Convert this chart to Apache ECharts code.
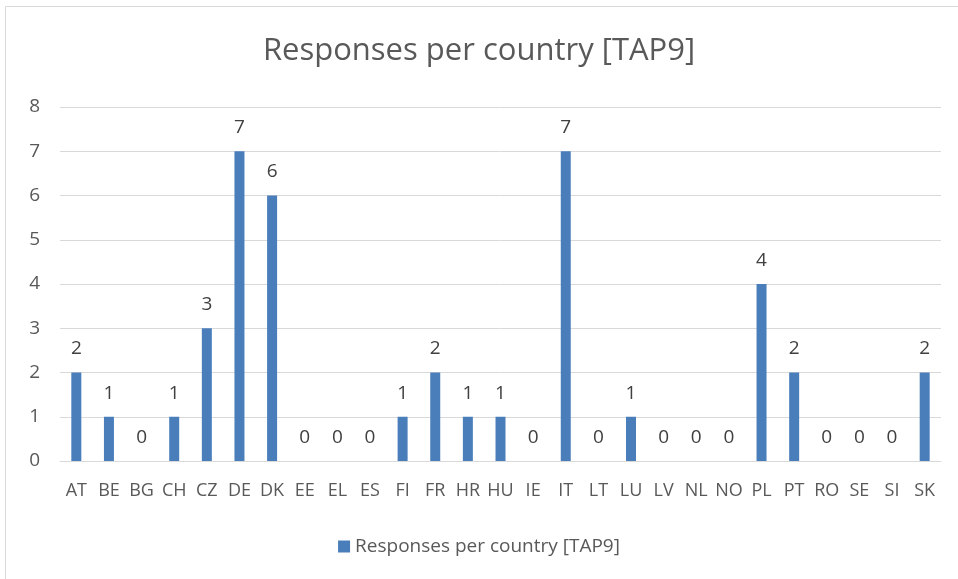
<!DOCTYPE html>
<html><head><meta charset="utf-8">
<script src="https://cdn.jsdelivr.net/npm/echarts@6/dist/echarts.min.js"></script>
<style>html,body{margin:0;padding:0;background:#fff;}#c{width:958px;height:579px;}</style>
</head><body><div id="c"></div>
<script>
const categories = ['AT','BE','BG','CH','CZ','DE','DK','EE','EL','ES','FI','FR','HR','HU','IE','IT','LT','LU','LV','NL','NO','PL','PT','RO','SE','SI','SK'];
const values = [2,1,0,1,3,7,6,0,0,0,1,2,1,1,0,7,0,1,0,0,0,4,2,0,0,0,2];
const seriesName = 'Responses per country [TAP9]';
const titleText = 'Responses per country [TAP9]';
const yTicks = {min:0, max:8, interval:1};

const chart = echarts.init(document.getElementById('c'));
const font = '"Open Sans", "Noto Sans", sans-serif';
chart.setOption({
  animation:false,
  textStyle:{fontFamily:font},
  graphic:[{type:'rect', shape:{x:5.5,y:6.5,width:960,height:580}, style:{fill:'none', stroke:'#d9d9d9', lineWidth:1}, silent:true}],
  title:{text:titleText, left:'center', top:31, textStyle:{fontFamily:font, fontSize:31, fontWeight:'normal', color:'#595959'}},
  legend:{data:[seriesName], bottom:18, left:'center', itemWidth:12, itemHeight:12, icon:'rect', itemGap:6,
    textStyle:{fontFamily:font, fontSize:19, color:'#595959'}},
  grid:{left:60, right:17, top:107, bottom:118},
  xAxis:{type:'category', data:categories,
    axisLine:{lineStyle:{color:'#d9d9d9'}}, axisTick:{show:false},
    axisLabel:{color:'#595959', fontSize:18, fontFamily:font, margin:21, interval:0}},
  yAxis:{type:'value', min:yTicks.min, max:yTicks.max, interval:yTicks.interval,
    axisLine:{show:false}, axisTick:{show:false},
    splitLine:{lineStyle:{color:'#d9d9d9', width:1}},
    axisLabel:{color:'#595959', fontSize:19, fontFamily:font, margin:20}},
  series:[{name:seriesName, type:'bar', data:values, barWidth:10,
    itemStyle:{color:'#4a7ebb'},
    label:{show:true, position:'top', distance:14, color:'#404040', fontSize:19, fontFamily:font}}]
});
</script></body></html>
